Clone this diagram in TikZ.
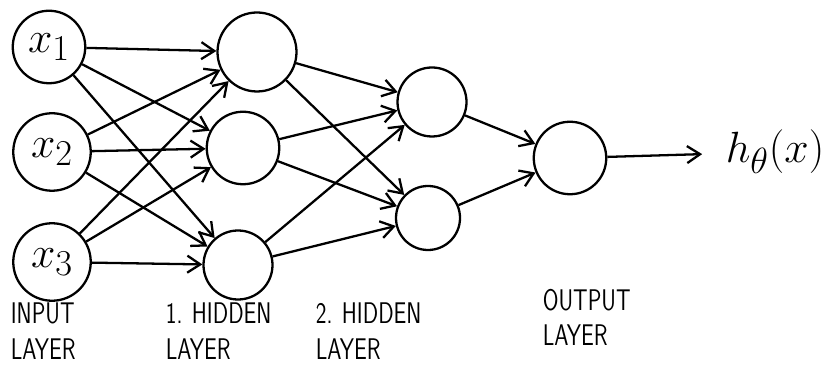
\documentclass[tikz,border=0pt]{standalone}
\usetikzlibrary{arrows.meta, positioning}
\tikzset{
  every picture/.style={line width=1.3pt},
  neuron/.style={draw, circle, inner sep=0pt, minimum size=#1},
  neuron/.default=1.4cm,
  arrow/.style={-{Straight Barb[length=2.6mm, width=3.4mm]}},
  layername/.style={font=\sffamily\fontsize{17}{20}\selectfont, xscale=0.76, align=left, anchor=north west, inner sep=0pt},
}

\begin{document}
\begin{tikzpicture}[
    inp/.style={neuron=1.55cm, font=\Huge}]
  \useasboundingbox (0,0) rectangle (16.78,7.34);

  % ---- input layer
  \node[inp, minimum size=1.45cm] (x1) at (0.98,6.40) {$x_1$};
  \node[inp] (x2) at (1.04,4.30) {$x_2$};
  \node[inp] (x3) at (1.04,2.10) {$x_3$};

  % ---- 1. hidden layer
  \node[neuron=1.58cm] (h1a) at (5.14,6.30) {};
  \node[neuron=1.45cm] (h1b) at (4.86,4.38) {};
  \node[neuron=1.38cm] (h1c) at (4.76,2.04) {};

  % ---- 2. hidden layer
  \node[neuron=1.38cm] (h2a) at (8.64,5.30) {};
  \node[neuron=1.28cm] (h2b) at (8.56,2.98) {};

  % ---- output layer
  \node[neuron=1.45cm] (out) at (11.40,4.18) {};
  \node[font=\Huge, inner sep=0pt] (hyp) at (15.50,4.30) {$h_\theta(x)$};

  \foreach \a in {x1,x2,x3}
    \foreach \b in {h1a,h1b,h1c}
      { \draw[arrow] (\a) -- (\b); }
  \foreach \a in {h1a,h1b,h1c}
    \foreach \b in {h2a,h2b}
      { \draw[arrow] (\a) -- (\b); }
  \foreach \a in {h2a,h2b}
    { \draw[arrow] (\a) -- (out); }
  \draw[arrow, shorten >=0.45cm] (out) -- (hyp);

  % ---- layer names
  \node[layername] (lin) at (0.20,1.30) {INPUT\\LAYER};
  \node[layername] (lh1) at (3.30,1.30) {1. HIDDEN\\LAYER};
  \node[layername] (lh2) at (6.30,1.30) {2. HIDDEN\\LAYER};
  \node[layername] (lout) at (10.84,1.58) {OUTPUT\\LAYER};
\end{tikzpicture}
\end{document}
